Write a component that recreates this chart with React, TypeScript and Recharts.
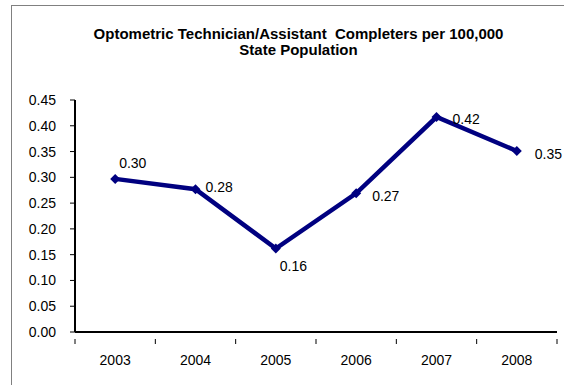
import { LineChart, Line, XAxis, YAxis } from "recharts";

const years = ["2003", "2004", "2005", "2006", "2007", "2008"];
const completers = [0.297, 0.277, 0.162, 0.269, 0.417, 0.351];
const yTicks = [0, 0.05, 0.1, 0.15, 0.2, 0.25, 0.3, 0.35, 0.4, 0.45];

const data = years.map((year, i) => ({ year, value: completers[i] }));

// label nudges (dx, dy) per point, Excel-style placement
const labelNudge = [
  [4, -15],
  [10, -1],
  [4, 19],
  [16, 4],
  [16, 3],
  [18, 4],
];

const FONT = "'Liberation Sans', Arial, sans-serif";
const NAVY = "#000080";

function Diamond(props: any) {
  const { cx, cy } = props;
  if (cx == null || cy == null) return null;
  const r = 5;
  return (
    <polygon
      points={`${cx},${cy - r} ${cx + r},${cy} ${cx},${cy + r} ${cx - r},${cy}`}
      fill={NAVY}
    />
  );
}

function ValueLabel(props: any) {
  const { x, y, value, index } = props;
  const [dx, dy] = labelNudge[index] || [10, 0];
  return (
    <text
      x={x + dx}
      y={y + dy}
      dominantBaseline="middle"
      fontSize={14}
      fontFamily={FONT}
      fill="#000"
    >
      {Number(value).toFixed(2)}
    </text>
  );
}

function YearTick(props: any) {
  const { x, y, payload, index, width, visibleTicksCount } = props;
  const band = width / visibleTicksCount;
  return (
    <g>
      <line x1={x - band / 2} y1={y - 1} x2={x - band / 2} y2={y + 4} stroke="#000" />
      {index === visibleTicksCount - 1 && (
        <line x1={x + band / 2} y1={y - 1} x2={x + band / 2} y2={y + 4} stroke="#000" />
      )}
      <text
        x={x}
        y={y + 25}
        textAnchor="middle"
        fontSize={14}
        fontFamily={FONT}
        fill="#000"
      >
        {payload.value}
      </text>
    </g>
  );
}

export default function App() {
  return (
    <div
      style={{
        position: "fixed",
        left: 0,
        top: 0,
        width: 564,
        height: 385,
        overflow: "hidden",
        background: "#fff",
      }}
    >
      <div
        style={{
          position: "absolute",
          left: 11,
          top: 5,
          width: 600,
          height: 420,
          border: "1px solid #808080",
        }}
      />
      <div
        style={{
          position: "absolute",
          left: 0,
          top: 26,
          width: 564,
          textAlign: "center",
          paddingLeft: 33,
          boxSizing: "border-box",
          fontFamily: FONT,
          fontWeight: "bold",
          fontSize: 15,
          lineHeight: "16px",
          color: "#000",
          whiteSpace: "nowrap",
        }}
      >
        Optometric Technician/Assistant&nbsp; Completers per 100,000
        <br />
        State Population
      </div>
      <div style={{ position: "absolute", left: 0, top: 0 }}>
        <LineChart
          width={564}
          height={385}
          data={data}
          margin={{ top: 100, right: 7, bottom: 0, left: 0 }}
        >
          <XAxis
            dataKey="year"
            scale="band"
            height={53}
            axisLine={{ stroke: "#000", strokeWidth: 2 }}
            tickLine={false}
            tick={<YearTick />}
            interval={0}
          />
          <YAxis
            width={75}
            domain={[0, 0.45]}
            ticks={yTicks}
            interval={0}
            axisLine={{ stroke: "#000", strokeWidth: 2 }}
            tickLine={{ stroke: "#000" }}
            tickSize={5}
            tickMargin={14}
            tickFormatter={(v: number) => v.toFixed(2)}
            tick={{ fontSize: 14, fontFamily: FONT, fill: "#000" }}
          />
          <Line
            dataKey="value"
            stroke={NAVY}
            strokeWidth={4.5}
            dot={<Diamond />}
            activeDot={false}
            label={<ValueLabel />}
            isAnimationActive={false}
          />
        </LineChart>
      </div>
    </div>
  );
}
